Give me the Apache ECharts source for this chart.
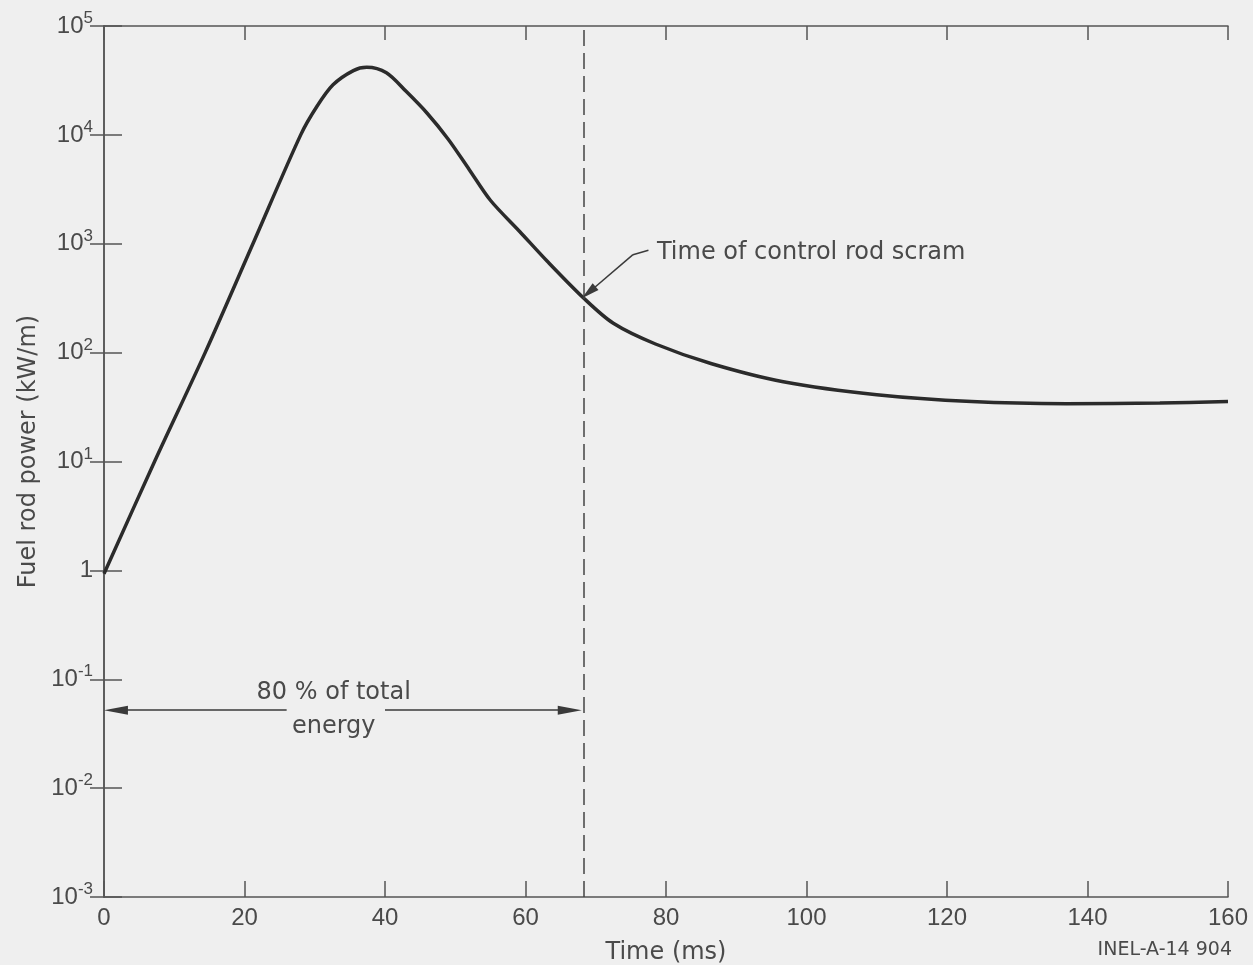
<!DOCTYPE html>
<html>
<head>
<meta charset="utf-8">
<title>Fuel rod power</title>
<script src="https://cdn.jsdelivr.net/npm/echarts@6/dist/echarts.min.js"></script>
<style>
    html, body {
        margin: 0;
        padding: 0;
        background: #efefef;
    }
    #chart {
        width: 1253px;
        height: 965px;
    }
</style>
</head>
<body>
<div id="chart"></div>
<script>
// values
const timeMs = [0, 7.2, 14.4, 21.2, 28, 30.3, 32.6, 35.5, 37.4, 40.2, 43, 46, 49, 52, 55,
    59.2, 63.1, 68.3, 72.5, 78.5, 86.5, 96.7, 110, 123.5, 137, 150.3, 160];
const powerKwm = [0.93, 10, 100, 1000, 10000, 18200, 28800, 38900, 41700, 37200, 25100, 15800, 9120, 4790, 2510,
    1290, 690, 316, 186, 120, 79, 54, 41, 35.5, 34, 34.5, 35.5];

const xTickStep = 20;
const yMin = 0.001;
const yMax = 100000;
const scramTime = 68.3;
const scramArrowAt = [69, 357];
const scramLeader = [[75.3, 794], [77.5, 870]];
const energyLevel = 0.052;
const energyLeft = [1.7, 26];
const energyRight = [40, 66.3];
const energyTextAt = 32.7;

const textColor = '#4a4a4a';
const lineColor = '#555';
const sans = 'Liberation Sans';
const wide = 'DejaVu Sans';

const chartDom = document.getElementById('chart');
const myChart = echarts.init(chartDom);

function logLabel(v) {
    const e = Math.round(Math.log10(v));
    if (e === 0) {
        return '{b|1}';
    }
    return '{b|10}{s|' + e + '}';
}

const hiddenLabel = {show: false};

const option = {
    backgroundColor: '#efefef',
    animation: false,
    grid: {
        left: 104,
        right: 25,
        top: 26,
        bottom: 68,
        containLabel: false,
        outerBoundsMode: 'none'
    },
    xAxis: [
        {
            type: 'value',
            min: 0,
            max: 160,
            interval: xTickStep,
            position: 'bottom',
            name: 'Time (ms)',
            nameLocation: 'middle',
            nameGap: 44,
            nameTextStyle: {fontFamily: wide, fontSize: 24, color: textColor},
            axisLine: {lineStyle: {color: lineColor, width: 1.5}},
            axisTick: {inside: true, length: 16, lineStyle: {color: lineColor, width: 1.5}},
            axisLabel: {fontFamily: sans, fontSize: 24, color: textColor, margin: 9},
            splitLine: {show: false}
        },
        {
            type: 'value',
            min: 0,
            max: 160,
            interval: xTickStep,
            position: 'top',
            axisLine: {lineStyle: {color: lineColor, width: 1.5}},
            axisTick: {inside: true, length: 14, lineStyle: {color: lineColor, width: 1.5}},
            axisLabel: hiddenLabel,
            splitLine: {show: false}
        }
    ],
    yAxis: [
        {
            type: 'log',
            logBase: 10,
            min: yMin,
            max: yMax,
            splitNumber: 8,
            position: 'left',
            name: 'Fuel rod power (kW/m)',
            nameLocation: 'middle',
            nameGap: 62,
            nameTextStyle: {fontFamily: wide, fontSize: 24, color: textColor, padding: [0, 0, 0, 20]},
            axisLine: {lineStyle: {color: lineColor, width: 1.5}},
            axisTick: {inside: true, length: 18, lineStyle: {color: lineColor, width: 1.5}},
            axisLabel: {
                margin: 11,
                color: textColor,
                formatter: logLabel,
                rich: {
                    b: {fontFamily: sans, fontSize: 24, lineHeight: 32, color: textColor},
                    s: {fontFamily: sans, fontSize: 17, lineHeight: 14, verticalAlign: 'top', color: textColor}
                }
            },
            splitLine: {show: false}
        },
        {
            type: 'log',
            logBase: 10,
            min: yMin,
            max: yMax,
            splitNumber: 8,
            position: 'right',
            axisLine: {lineStyle: {color: lineColor, width: 1.5}},
            axisTick: {inside: true, length: 14, lineStyle: {color: lineColor, width: 1.5}},
            axisLabel: hiddenLabel,
            splitLine: {show: false}
        }
    ],
    graphic: [
        {
            type: 'text',
            right: 21,
            top: 941,
            style: {
                text: 'INEL-A-14 904',
                font: '19px "DejaVu Sans"',
                fill: textColor
            }
        }
    ],
    series: [
        {
            name: 'power',
            type: 'line',
            data: timeMs.map((t, i) => [t, powerKwm[i]]),
            smooth: 0.3,
            showSymbol: false,
            lineStyle: {color: '#2b2b2b', width: 3.5},
            markLine: {
                silent: true,
                symbol: ['none', 'triangle'],
                symbolSize: [9, 24],
                label: {show: false},
                lineStyle: {color: '#3a3a3a', width: 1.5, type: 'solid'},
                data: [
                    [
                        {coord: [scramTime, yMin], symbol: 'none'},
                        {coord: [scramTime, yMax], symbol: 'none', lineStyle: {type: [16, 7], width: 1.5, color: '#444'}}
                    ],
                    [
                        {coord: [energyLeft[1], energyLevel]},
                        {coord: [energyLeft[0], energyLevel]}
                    ],
                    [
                        {coord: [energyRight[0], energyLevel]},
                        {coord: [energyRight[1], energyLevel]}
                    ],
                    [
                        {coord: scramLeader[0]},
                        {coord: scramArrowAt, symbolSize: [9, 18]}
                    ],
                    [
                        {coord: scramLeader[0], symbol: 'none'},
                        {coord: scramLeader[1], symbol: 'none'}
                    ]
                ]
            },
            markPoint: {
                silent: true,
                symbol: 'circle',
                symbolSize: 1,
                itemStyle: {color: 'rgba(0,0,0,0)'},
                data: [
                    {
                        coord: [energyTextAt, energyLevel],
                        label: {
                            show: true,
                            position: 'inside',
                            formatter: '80 % of total\nenergy',
                            fontFamily: wide,
                            fontSize: 24,
                            lineHeight: 34,
                            color: textColor
                        }
                    },
                    {
                        coord: scramLeader[1],
                        label: {
                            show: true,
                            position: 'right',
                            distance: 8,
                            offset: [0, 2],
                            formatter: 'Time of control rod scram',
                            fontFamily: wide,
                            fontSize: 24,
                            color: textColor
                        }
                    }
                ]
            }
        }
    ]
};

option && myChart.setOption(option);
</script>
</body>
</html>
